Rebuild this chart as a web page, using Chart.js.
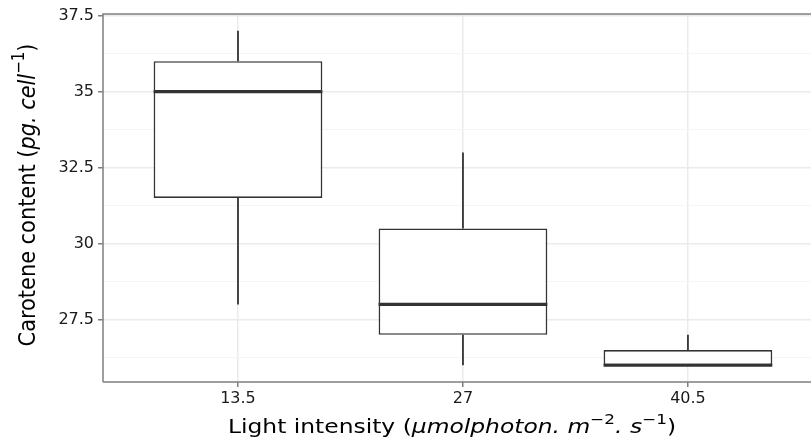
<!DOCTYPE html>
<html>
<head>
<meta charset="utf-8">
<script src="https://cdn.jsdelivr.net/npm/chart.js@4"></script>
<style>
html,body{margin:0;padding:0;background:#fff;overflow:hidden;}
#wrap{width:811px;height:442px;position:relative;}
</style>
</head>
<body>
<div id="wrap"><canvas id="c" width="811" height="442"></canvas></div>
<script>
// ---- data ----
const categories = ['13.5', '27', '40.5'];
const whiskerLow  = [28, 26, 26];
const q1          = [31.5, 27, 26];
const median      = [35, 28, 26];
const q3          = [36, 30.5, 26.5];
const whiskerHigh = [37, 33, 27];
const yMajorTicks = [27.5, 30, 32.5, 35, 37.5];
const yMinorTicks = [26.25, 28.75, 31.25, 33.75, 36.25];

const BOX_WIDTH = 0.75;
const INK = '#333333';
const AXIS = '#7f7f7f';

const xs = categories.map((_, i) => i + 1);

const boxData = xs.map((x, i) => ({ x: x, y: [q1[i], q3[i]] }));
const whiskerData = [];
xs.forEach((x, i) => {
  if (whiskerHigh[i] > q3[i]) { whiskerData.push({x, y: q3[i]}, {x, y: whiskerHigh[i]}, {x, y: null}); }
  if (whiskerLow[i] < q1[i]) { whiskerData.push({x, y: whiskerLow[i]}, {x, y: q1[i]}, {x, y: null}); }
});
const medianData = [];
xs.forEach((x, i) => {
  medianData.push({x: x - BOX_WIDTH / 2, y: median[i]}, {x: x + BOX_WIDTH / 2, y: median[i]}, {x, y: null});
});

const FONT = "'DejaVu Sans', sans-serif";

// draws panel border and rich axis titles (italic / superscript parts)
const decor = {
  id: 'decor',
  afterDraw(chart) {
    const ctx = chart.ctx, a = chart.chartArea;
    ctx.save();
    ctx.strokeStyle = AXIS;
    ctx.lineWidth = 1.5;
    ctx.beginPath();
    ctx.moveTo(a.left, a.bottom);
    ctx.lineTo(a.left, a.top);
    ctx.lineTo(a.right + 20, a.top);
    ctx.moveTo(a.left, a.bottom);
    ctx.lineTo(a.right + 20, a.bottom);
    ctx.stroke();

    function drawRich(parts, size) {
      let total = 0;
      const measured = parts.map(p => {
        const s = p.sup ? size * 0.72 : size;
        const f = (p.it ? 'italic ' : '') + s + 'px ' + FONT;
        ctx.font = f;
        const w = ctx.measureText(p.t).width;
        total += w;
        return {p, f, w};
      });
      let x = -total / 2;
      ctx.fillStyle = '#000';
      ctx.textBaseline = 'middle';
      ctx.textAlign = 'left';
      measured.forEach(m => {
        ctx.font = m.f;
        ctx.fillText(m.p.t, x, m.p.sup ? -size * 0.38 : 0);
        x += m.w;
      });
    }
    // x title
    ctx.save();
    ctx.translate(452, 428);
    ctx.scale(1.2, 1);
    drawRich([
      {t: 'Light intensity ('},
      {t: 'μmolphoton. m', it: true},
      {t: '−2', sup: true},
      {t: '. s', it: true},
      {t: '−1', sup: true},
      {t: ')'}
    ], 19.5);
    ctx.restore();
    // y title
    ctx.save();
    ctx.translate(29, 195);
    ctx.rotate(-Math.PI / 2);
    ctx.scale(1, 1.14);
    drawRich([
      {t: 'Carotene content ('},
      {t: 'pg. cell', it: true},
      {t: '−1', sup: true},
      {t: ')'}
    ], 20.9);
    ctx.restore();
    ctx.restore();
  }
};

const isMajor = v => yMajorTicks.some(t => Math.abs(t - v) < 1e-6);

new Chart(document.getElementById('c'), {
  type: 'bar',
  data: {
    datasets: [
      {
        type: 'bar',
        label: 'box',
        data: boxData,
        backgroundColor: '#ffffff',
        borderColor: INK,
        borderWidth: 1.7,
        borderSkipped: false,
        barPercentage: BOX_WIDTH,
        categoryPercentage: 1,
        order: 2
      },
      {
        type: 'line',
        label: 'whiskers',
        data: whiskerData,
        borderColor: INK,
        borderWidth: 1.8,
        pointRadius: 0,
        spanGaps: false,
        fill: false,
        order: 1
      },
      {
        type: 'line',
        label: 'median',
        data: medianData,
        borderColor: INK,
        borderWidth: 3.2,
        pointRadius: 0,
        spanGaps: false,
        fill: false,
        borderCapStyle: 'butt',
        order: 0
      }
    ]
  },
  options: {
    responsive: false,
    animation: false,
    events: [],
    layout: { padding: { top: 14, right: 0, left: 0, bottom: 0 } },
    plugins: { legend: { display: false }, tooltip: { enabled: false } },
    scales: {
      x: {
        type: 'linear',
        min: 0.4,
        max: 3.547,
        offset: false,
        afterBuildTicks: s => { s.ticks = xs.map(v => ({ value: v })); },
        afterFit: s => { s.height = 60; },
        ticks: {
          callback: v => categories[v - 1] ?? '',
          font: { family: FONT, size: 16 },
          color: '#1a1a1a',
          padding: 2,
          maxRotation: 0,
          autoSkip: false
        },
        grid: {
          offset: false,
          color: '#ebebeb',
          lineWidth: 1.5,
          tickLength: 5,
          tickColor: AXIS,
          tickWidth: 1.5
        },
        border: { display: false }
      },
      y: {
        type: 'linear',
        min: 25.45,
        max: 37.55,
        afterBuildTicks: s => {
          s.ticks = yMinorTicks.concat(yMajorTicks).sort((a, b) => a - b).map(v => ({ value: v }));
        },
        afterFit: s => { s.width = 103; },
        ticks: {
          callback: v => isMajor(v) ? String(v) : '',
          font: { family: FONT, size: 16 },
          color: '#1a1a1a',
          padding: 4,
          autoSkip: false
        },
        grid: {
          color: ctx => isMajor(ctx.tick.value) ? '#ebebeb' : '#f5f5f5',
          lineWidth: ctx => isMajor(ctx.tick.value) ? 1.5 : 1,
          tickLength: 5,
          tickColor: ctx => isMajor(ctx.tick.value) ? AXIS : 'rgba(0,0,0,0)',
          tickWidth: 1.5
        },
        border: { display: false }
      }
    }
  },
  plugins: [decor]
});
</script>
</body>
</html>
